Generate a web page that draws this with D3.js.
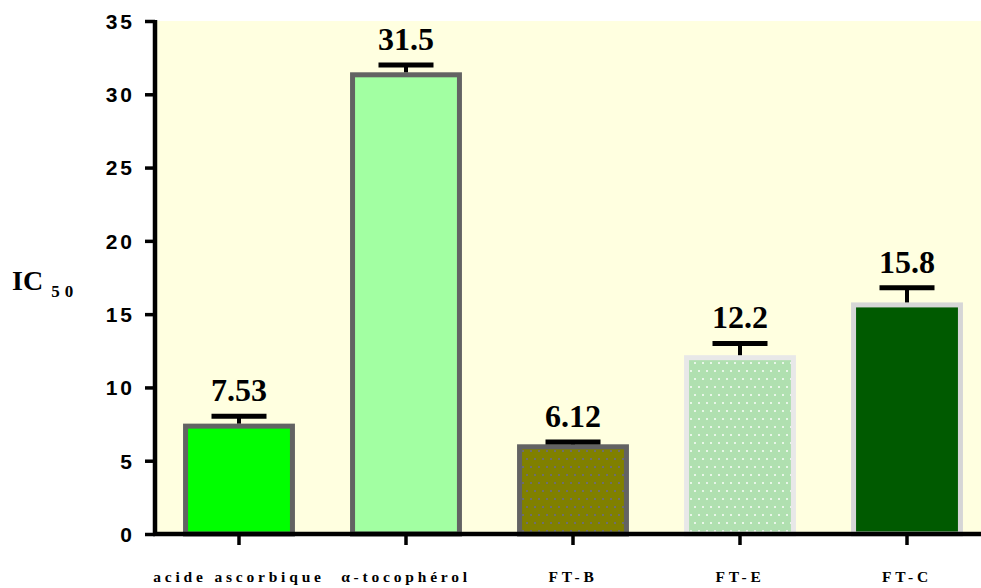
<!DOCTYPE html>
<html><head><meta charset="utf-8">
<script src="https://cdn.jsdelivr.net/npm/d3@7"></script>
<style>body{margin:0;background:#fff}svg{display:block}</style>
</head><body>
<script>
const categories = ["acide ascorbique", "α-tocophérol", "FT-B", "FT-E", "FT-C"];
const values = [7.53, 31.5, 6.12, 12.2, 15.8];
const errors = [0.5, 0.5, 0.15, 0.8, 1.0];
const valueLabels = ["7.53", "31.5", "6.12", "12.2", "15.8"];
const yTicks = [0, 5, 10, 15, 20, 25, 30, 35];
const fills = ["#00ff00", "#a2ffa2", "url(#dotsOlive)", "url(#dotsGreen)", "#005a00"];
const strokes = ["#636363", "#636363", "#636363", "#e8e8e8", "#d6d6d6"];

const W = 981, H = 588;
const svg = d3.select("body").append("svg").attr("width", W).attr("height", H);
const defs = svg.append("defs");
function dotPattern(id, bg, dot) {
  const p = defs.append("pattern").attr("id", id).attr("patternUnits", "userSpaceOnUse")
    .attr("width", 16).attr("height", 16);
  p.append("rect").attr("width", 16).attr("height", 16).attr("fill", bg);
  [[2,2],[10,2],[6,10],[14,10]].forEach(([x,y]) =>
    p.append("rect").attr("x", x).attr("y", y).attr("width", 2).attr("height", 2).attr("fill", dot));
}
dotPattern("dotsOlive", "#808000", "#6e6e6e");
dotPattern("dotsGreen", "#b0e0b0", "#e8f6e8");

const x = d3.scaleBand().domain(categories).range([155.5, 990.5]).paddingInner(0.33).paddingOuter(0.165);
const y = d3.scaleLinear().domain([0, 35]).range([534, 21]);

// plot background
svg.append("rect").attr("x", 157).attr("y", y(35)).attr("width", W - 157).attr("height", y(0) - y(35))
  .attr("fill", "#ffffe0");

// bars
const sw = 5;
svg.selectAll("rect.bar").data(values).enter().append("rect").attr("class", "bar")
  .attr("x", (d, i) => x(categories[i]) + sw / 2)
  .attr("y", d => y(d) + sw / 2)
  .attr("width", x.bandwidth() - sw)
  .attr("height", d => y(0) - y(d) - sw / 2)
  .attr("fill", (d, i) => fills[i])
  .attr("stroke", (d, i) => strokes[i])
  .attr("stroke-width", sw);

// error bars
values.forEach((v, i) => {
  const cx = x(categories[i]) + x.bandwidth() / 2;
  const top = y(v + errors[i]);
  svg.append("line").attr("x1", cx).attr("x2", cx).attr("y1", y(v)).attr("y2", top)
    .attr("stroke", "#000").attr("stroke-width", 4);
  svg.append("line").attr("x1", cx - 27.5).attr("x2", cx + 27.5).attr("y1", top).attr("y2", top)
    .attr("stroke", "#000").attr("stroke-width", 5);
  svg.append("text").attr("x", cx).attr("y", top - 15).attr("text-anchor", "middle")
    .attr("font-family", "Liberation Serif, Times New Roman, serif").attr("font-weight", "bold")
    .attr("font-size", 32).attr("fill", "#000").text(valueLabels[i]);
});

// y axis
const yAxis = svg.append("g").attr("transform", "translate(155,0)")
  .call(d3.axisLeft(y).tickValues(yTicks).tickSize(10).tickPadding(10).tickFormat(d3.format("d")));
yAxis.select(".domain").style("stroke", "#000").style("stroke-width", "4.5px").attr("d", `M0,${y(35)-1}V${y(0)+2}`);
yAxis.selectAll(".tick line").style("stroke", "#000").style("stroke-width", "3.5px");
yAxis.selectAll(".tick text").attr("font-family", "Liberation Sans, Arial, sans-serif")
  .attr("font-weight", "bold").attr("font-size", 21).attr("letter-spacing", 3).attr("fill", "#000")
  .attr("dy", "0.35em");

// x axis
const xAxis = svg.append("g").attr("transform", `translate(0,${y(0)})`)
  .call(d3.axisBottom(x).tickSize(11).tickPadding(26));
xAxis.select(".domain").style("stroke", "#000").style("stroke-width", "4.5px").attr("d", `M153,0H${W}`);
xAxis.selectAll(".tick line").style("stroke", "#000").style("stroke-width", "3.5px");
xAxis.selectAll(".tick text").attr("font-family", "Liberation Serif, Times New Roman, serif")
  .attr("font-weight", "bold").attr("font-size", 15.5).attr("letter-spacing", 3.8).attr("fill", "#000")
  .attr("dy", "0.71em");

// y label
const yl = svg.append("text").attr("x", 12).attr("y", 290)
  .attr("font-family", "Liberation Serif, Times New Roman, serif").attr("font-weight", "bold").attr("fill", "#000");
yl.append("tspan").attr("font-size", 28).text("IC");
yl.append("tspan").attr("font-size", 17).attr("dx", 8).attr("dy", 7).attr("letter-spacing", 5).text("50");
</script>
</body></html>
